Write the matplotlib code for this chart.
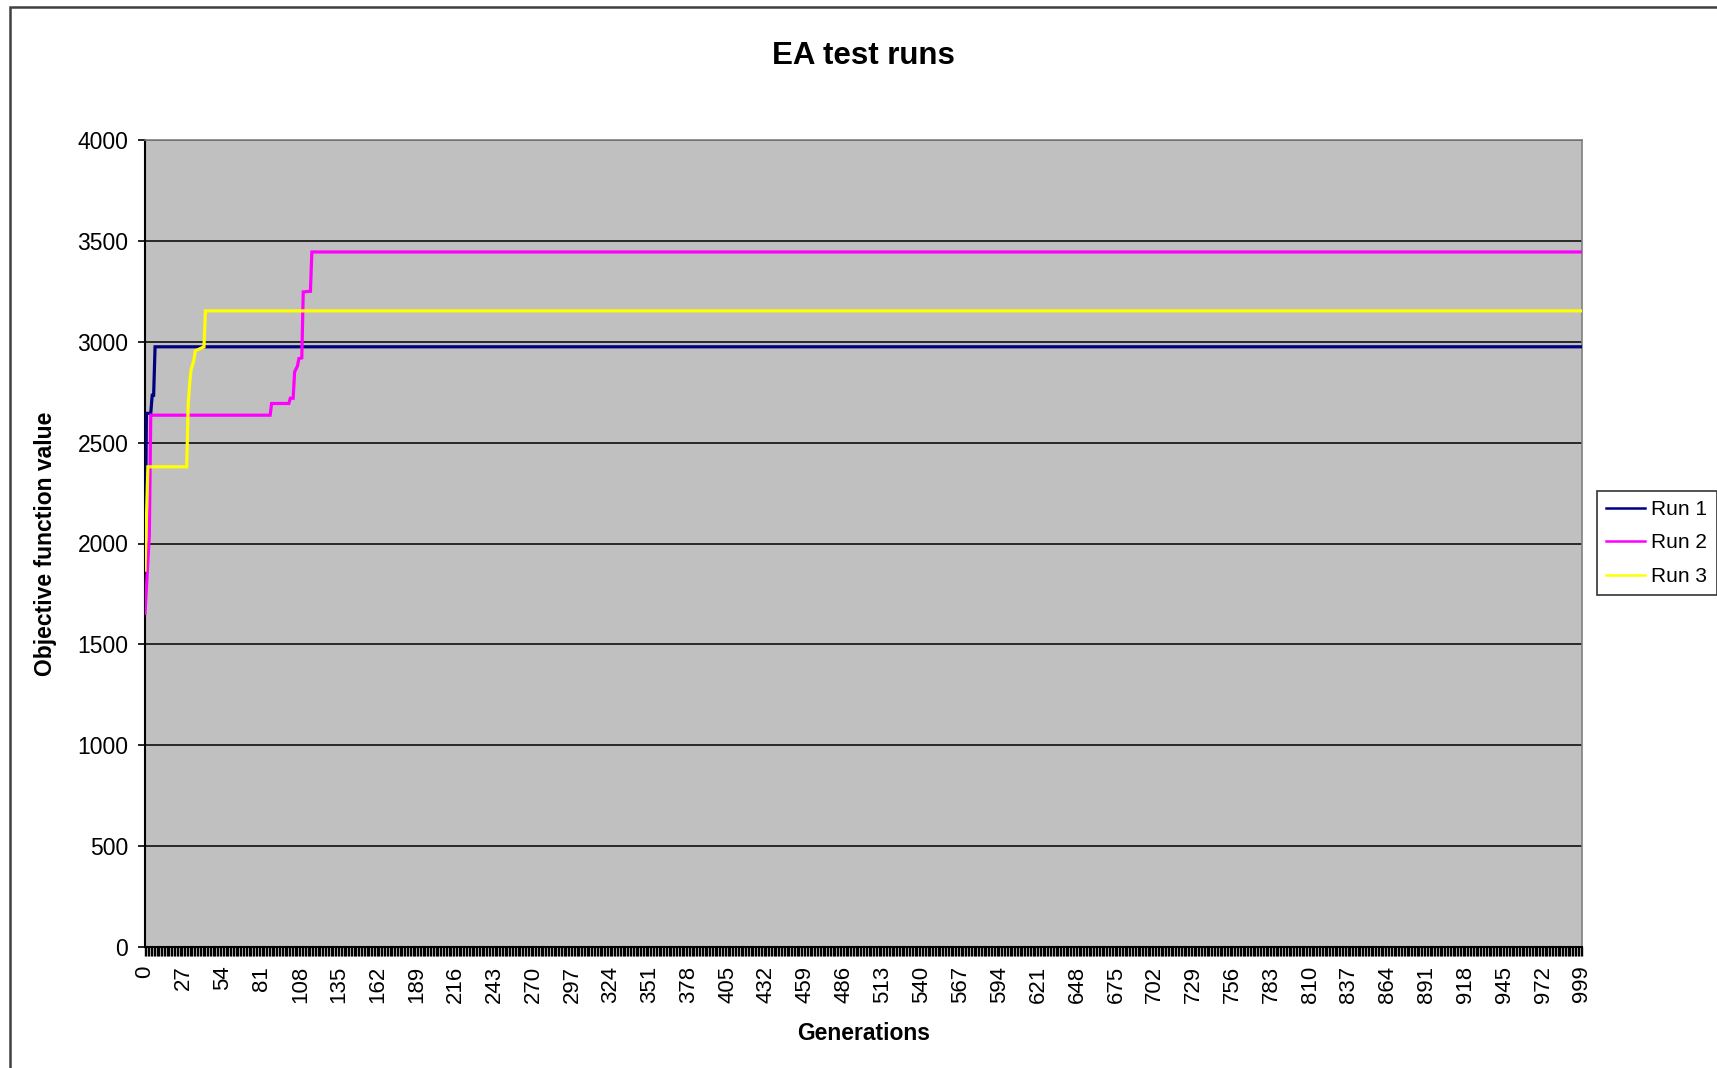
import numpy as np
import matplotlib
matplotlib.use("Agg")
import matplotlib.pyplot as plt
from matplotlib.patches import Rectangle
from matplotlib.ticker import MultipleLocator

plt.rcParams['font.family'] = ['Liberation Sans', 'DejaVu Sans']

# best objective value so far, listed at the generations where it changes
run1_gen = [0, 1, 4, 5, 6, 7, 999]
run1_val = [1868, 2645, 2645, 2735, 2735, 2975, 2975]

run2_gen = [0, 3, 4, 87, 88, 100, 101, 103, 104, 106, 107, 109, 110, 115, 116, 999]
run2_val = [1653, 2040, 2636, 2636, 2694, 2694, 2720, 2720, 2850, 2880, 2917, 2920, 3247, 3250, 3445, 3445]

run3_gen = [0, 2, 29, 30, 31, 32, 34, 35, 41, 42, 999]
run3_val = [1868, 2380, 2380, 2686, 2790, 2860, 2910, 2955, 2975, 3153, 3153]

run_labels = ['Run 1', 'Run 2', 'Run 3']
run_colors = ['#000080', '#FF00FF', '#FFFF00']

x_tick_labels = list(range(0, 999, 27)) + [999]

W, H = 1717, 1068
fig = plt.figure(figsize=(W / 100, H / 100), dpi=100)
ax = fig.add_axes([145 / W, 1 - 947 / H, (1582 - 145) / W, (947 - 140) / H])
ax.set_facecolor('#C0C0C0')

for g, v, lab, col in zip([run1_gen, run2_gen, run3_gen],
                          [run1_val, run2_val, run3_val],
                          run_labels, run_colors):
    ax.plot(g, v, color=col, lw=2.3, label=lab, zorder=3, solid_joinstyle='miter')

ax.set_xlim(0, 999)
ax.set_ylim(0, 4000)
ax.yaxis.set_major_locator(MultipleLocator(500))
ax.grid(axis='y', color='black', lw=1.1, zorder=1)
ax.set_axisbelow(True)

ax.set_xticks(x_tick_labels)
ax.set_xticklabels([str(t) for t in x_tick_labels], rotation=90, fontsize=16)
ax.xaxis.set_minor_locator(MultipleLocator(1))
ax.tick_params(axis='x', which='major', length=6.5, width=1.0, direction='out', pad=7)
ax.tick_params(axis='x', which='minor', length=6.5, width=1.0, direction='out')
ax.tick_params(axis='y', length=5, width=1.2, labelsize=16.5, pad=7)

for s in ['left', 'bottom']:
    ax.spines[s].set_color('black')
    ax.spines[s].set_linewidth(1.5)
for s in ['right', 'top']:
    ax.spines[s].set_color('#808080')
    ax.spines[s].set_linewidth(1.2)

fig.text((145 + 1582) / 2 / W, 1 - 56 / H, 'EA test runs', fontsize=22.5,
         fontweight='bold', ha='center', va='center')
ax.set_xlabel('Generations', fontsize=16.5, fontweight='bold')
ax.xaxis.set_label_coords(0.5, -(1033 - 947) / 807)
ax.xaxis.label.set_va('center')
ax.set_ylabel('Objective function value', fontsize=16.5, fontweight='bold')
ax.yaxis.set_label_coords((46 - 145) / 1437, 0.5)
ax.yaxis.label.set_va('center')

leg = fig.legend(loc='center left', bbox_to_anchor=(1597 / W, 1 - 543 / H),
                 fontsize=15, frameon=True, fancybox=False, handlelength=1.85,
                 handletextpad=0.3, borderpad=0.45, labelspacing=0.7,
                 borderaxespad=0)
leg.get_frame().set_edgecolor('black')
leg.get_frame().set_linewidth(1.2)
for line in leg.get_lines():
    line.set_linewidth(1.8)

# outer chart border
fig.patches.append(Rectangle((10 / W, -0.1), 1.2, 1.1 - 7 / H, transform=fig.transFigure,
                             fill=False, edgecolor='#404040', lw=1.8))

fig.savefig('out.png', dpi=100)
